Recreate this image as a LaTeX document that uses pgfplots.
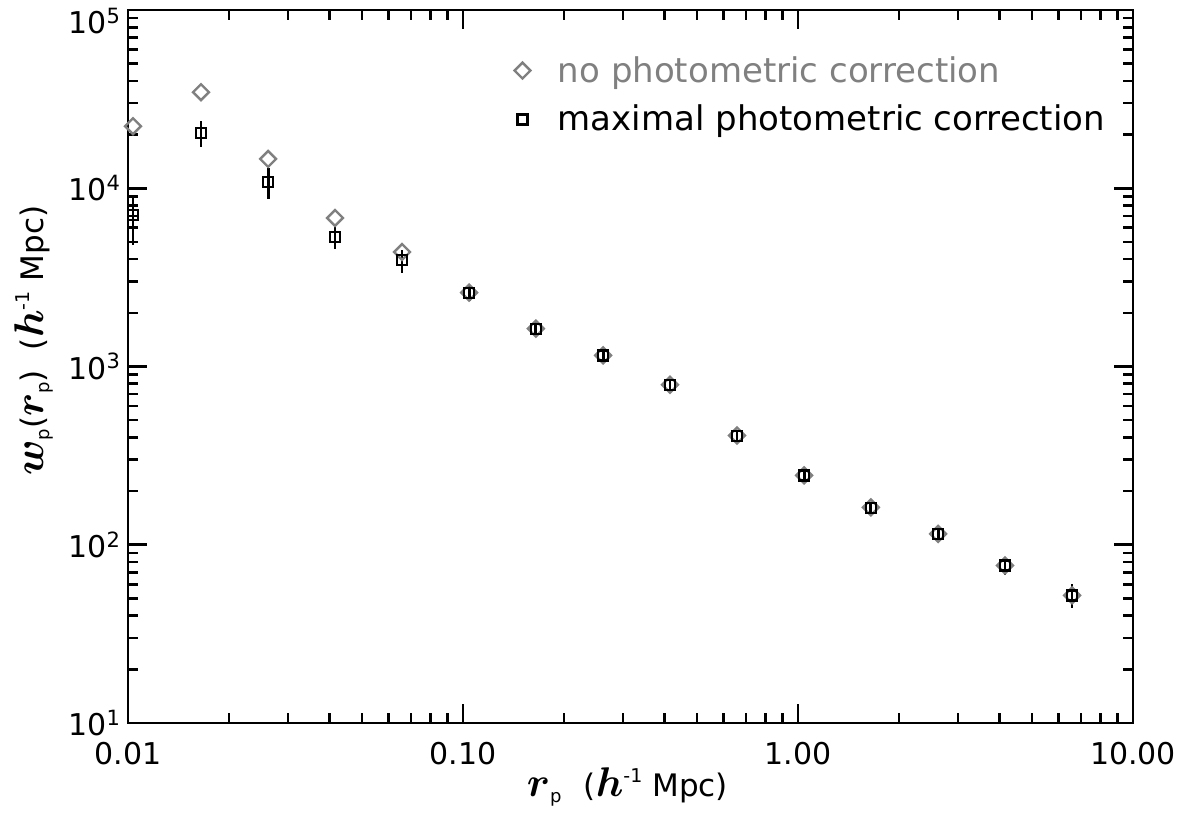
\documentclass[border=0pt]{standalone}
\usepackage{fontspec}
\setmainfont{DejaVu Sans}
\usepackage{bm}
\usepackage{pgfplots}
\pgfplotsset{compat=1.18}
\usepackage{pgfplotstable}
\newcommand{\mi}[1]{\mbox{\fontsize{19.5}{20}\selectfont$\bm{#1}$}}
\newcommand{\sub}[1]{\raisebox{-3pt}{\fontsize{9}{9}\selectfont #1}}
\newcommand{\sups}[1]{\raisebox{7pt}{\fontsize{9.5}{9}\selectfont #1}}

\pgfplotstableread{
x y ep em
0.01035 7080 2080 2270
0.01652 20400 3400 3400
0.0262 10840 2160 2140
0.0415 5330 740 770
0.0658 3960 550 610
0.1043 2583 300 250
0.165 1622 150 130
0.262 1151 90 80
0.415 787 55 50
0.658 409 30 28
1.043 244 18 17
1.65 161 13 12
2.62 114.5 10 9
4.15 76.3 9.4 8.7
6.58 51.8 8.5 7.8
}\sq

\pgfplotstableread{
x y
0.01035 22300
0.01652 34600
0.0262 14600
0.0415 6810
0.0658 4390
0.1043 2600
0.165 1630
0.262 1155
0.415 790
0.658 410
1.043 245
1.65 162
2.62 115
4.15 76.5
6.58 52
}\dia

\begin{document}
\begin{tikzpicture}
\begin{axis}[name=ax,
  xmode=log, ymode=log,
  width=502.5pt, height=356.5pt, scale only axis,
  xmin=0.01, xmax=10, ymin=10, ymax=100000,
  xtick={0.01,0.1,1,10}, xticklabels={0.01,0.10,1.00,10.00},
  ytick={10,100,1000,10000},
  yticklabels={10\textsuperscript{1},10\textsuperscript{2},10\textsuperscript{3},10\textsuperscript{4}},
  extra y ticks={100000},
  extra y tick labels={10\textsuperscript{5}},
  extra y tick style={yticklabel style={yshift=-5.5pt}},
  minor xtick={0.02,0.03,0.04,0.05,0.06,0.07,0.08,0.09,0.2,0.3,0.4,0.5,0.6,0.7,0.8,0.9,2,3,4,5,6,7,8,9},
  minor ytick={20,30,40,50,60,70,80,90,200,300,400,500,600,700,800,900,2000,3000,4000,5000,6000,7000,8000,9000,20000,30000,40000,50000,60000,70000,80000,90000},
  tick align=inside, tick pos=both,
  major tick length=9.5pt, minor tick length=5pt,
  tick style={black, line width=1.3pt},
  axis line style={line width=1.4pt},
  tick label style={font=\fontsize{15}{18}\selectfont},
  xticklabel style={yshift=-6pt},
  xlabel={\mi{r}\sub{p}\hspace{11pt}(\mi{h}\sups{-1}\hspace{5pt}Mpc)},
  ylabel={\mi{w}\sub{p}(\mi{r}\sub{p})\hspace{10pt}(\mi{h}\sups{-1}\hspace{5pt}Mpc)},
  label style={font=\fontsize{15.5}{18}\selectfont},
  xlabel style={at={(axis description cs:0.497,-0.09)}, anchor=center},
  ylabel style={at={(axis description cs:-0.0935,0.536)}, anchor=center, rotate=0},
  legend image code/.code={\draw[#1] plot coordinates {(0.3cm,0cm)}; \path (0cm,0cm) (0.83cm,0cm);},
  legend style={draw=none, fill=none, at={(axis description cs:0.368,0.947)}, anchor=north west,
    font=\fontsize{17}{20}\selectfont, row sep=6pt},
  legend cell align=left,
]
\addplot[only marks, mark=square, mark size=2.8pt, line width=1.2pt, black!50,
  mark options={rotate=45}] table[x=x,y=y]{\dia};
\addlegendentry{\textcolor{black!50}{no photometric correction}}
\addplot[only marks, mark=square, mark size=2.5pt, line width=1.2pt, black,
  error bars/.cd, y dir=both, y explicit, error mark=none,
  error bar style={line width=1.4pt, black}]
  table[x=x,y=y,y error plus=ep,y error minus=em]{\sq};
\addlegendentry{maximal photometric correction}
\end{axis}
\pgfresetboundingbox
\useasboundingbox ([xshift=-64pt,yshift=-51.5pt]ax.south west) rectangle ([xshift=31pt,yshift=5pt]ax.north east);
\end{tikzpicture}
\end{document}
